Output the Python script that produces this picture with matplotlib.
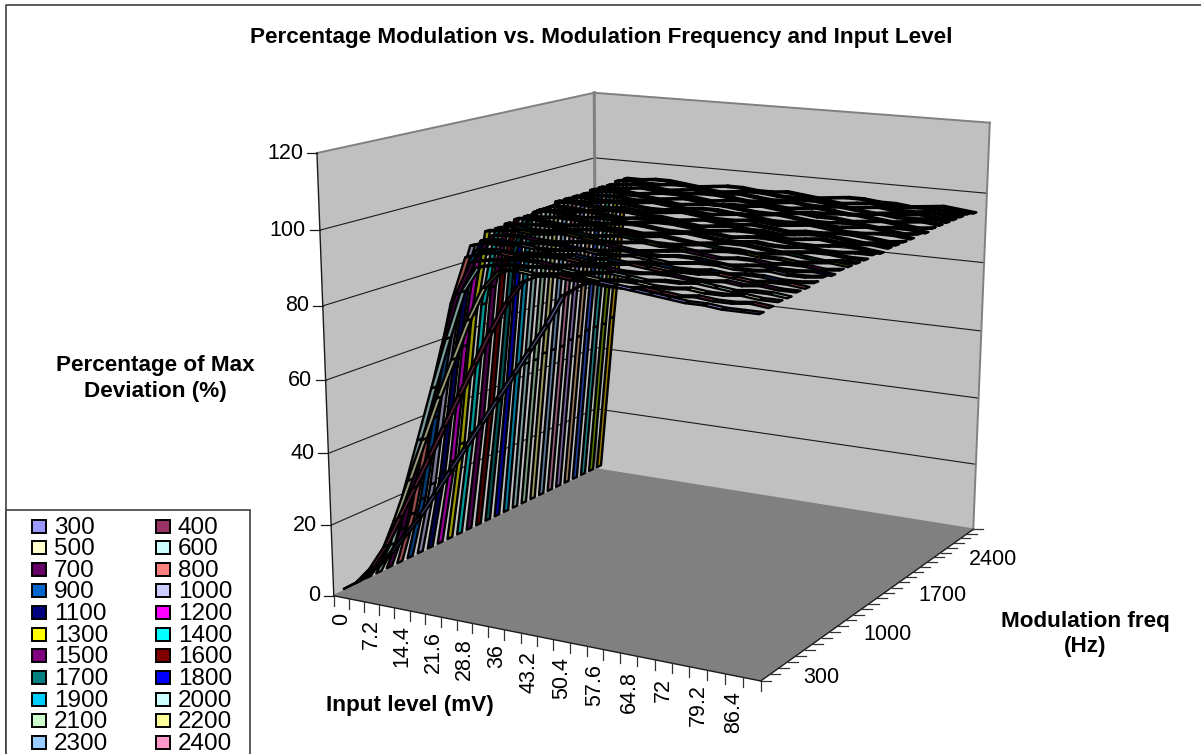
import numpy as np
import matplotlib
matplotlib.use("Agg")
import matplotlib.pyplot as plt
from matplotlib.patches import Polygon, Rectangle
from matplotlib.colors import to_rgb

plt.rcParams['font.family'] = ['Liberation Sans', 'DejaVu Sans']

# input level categories (mV), one point every 3.6 mV
input_levels = [0, 3.6, 7.2, 10.8, 14.4, 18, 21.6, 25.2, 28.8, 32.4, 36, 39.6, 43.2,
                46.8, 50.4, 54, 57.6, 61.2, 64.8, 68.4, 72, 75.6, 79.2, 82.8, 86.4, 90]
x_tick_labels = ['0', '7.2', '14.4', '21.6', '28.8', '36', '43.2', '50.4', '57.6',
                 '64.8', '72', '79.2', '86.4']
y_tick_labels = ['300', '1000', '1700', '2400']
z_tick_values = [0, 20, 40, 60, 80, 100, 120]

# modulation frequencies (Hz), the legend only has room for the first 22
mod_freqs = [300, 400, 500, 600, 700, 800, 900, 1000, 1100, 1200, 1300, 1400, 1500, 1600,
             1700, 1800, 1900, 2000, 2100, 2200, 2300, 2400, 2500, 2600, 2700, 2800, 2900, 3000]
series_colors = ['#9999FF', '#993366', '#FFFFCC', '#CCFFFF', '#660066', '#FF8080', '#0066CC',
                 '#CCCCFF', '#000080', '#FF00FF', '#FFFF00', '#00FFFF', '#800080', '#800000',
                 '#008080', '#0000FF', '#00CCFF', '#CCFFFF', '#CCFFCC', '#FFFF99', '#99CCFF',
                 '#FF99CC', '#CC99FF', '#FFCC99', '#3366FF', '#33CCCC', '#99CC00', '#FFCC00']

m300 = [2, 5, 9, 14, 20, 26, 33, 40, 47, 54, 61, 68, 75, 82, 90, 93, 94.5, 94, 93.5, 93, 92.5, 92, 92, 91.5, 91.5, 91.5]
m400 = [2, 7, 14, 23, 32, 41, 50, 59, 68, 77, 85, 91, 93, 93.5, 93, 93, 92.5, 92.5, 93, 92.5, 92, 92.5, 92, 92, 92.5, 92]
m500 = [2, 9, 20, 32, 44, 56, 67, 78, 87, 92, 92.5, 92, 92.5, 93, 93, 92.5, 93, 93, 92.5, 92.5, 93, 92.5, 92.5, 93, 92.5, 92.5]
m600 = [2, 11, 27, 42, 57, 71, 84, 91, 92, 92.5, 92.5, 93, 93, 92.5, 93, 93.5, 93, 92.5, 93, 93, 93.5, 93, 92.5, 93, 93, 92.5]
m700 = [2, 14, 32, 50, 67, 82, 91, 92, 92.5, 93, 93, 92.5, 93, 93.5, 93.5, 93, 93, 93.5, 93.5, 93, 93, 93.5, 93, 93.5, 93, 93]
m800 = [2, 17, 38, 59, 78, 91, 92.5, 93, 92.5, 93, 93.5, 93.5, 93, 93, 93.5, 94, 93.5, 93, 93.5, 93.5, 94, 93.5, 93, 93.5, 93.5, 93]
m900 = [2, 20, 44, 67, 85, 92, 92.5, 92, 92.5, 93, 93, 93.5, 93, 93.5, 93, 93.5, 93.5, 93, 93, 93.5, 93, 93.5, 93.5, 93, 93, 93.5]
m1000 = [2, 23, 52, 78, 92, 93, 93, 93.5, 93, 93, 93.5, 94, 93.5, 93.5, 94, 93.5, 93, 93.5, 94, 94, 93.5, 93.5, 94, 93.5, 93.5, 94]
m1100 = [2, 25, 56, 83, 92.5, 93, 92.5, 93, 93.5, 93.5, 93, 93, 93.5, 94, 93.5, 93.5, 94, 94, 93.5, 93, 93.5, 94, 93.5, 93.5, 94, 93.5]
m1200 = [2, 27, 61, 87, 93, 93.5, 93.5, 93, 93, 93.5, 94, 94, 93.5, 93, 93.5, 94, 94.5, 94, 93.5, 94, 94, 93.5, 94, 94, 93.5, 94]
m1300 = [2, 31, 69, 93, 93.5, 94, 93.5, 94, 94.5, 94, 93.5, 93.5, 94, 94.5, 94, 94, 93.5, 94, 94.5, 94.5, 94, 94, 93.5, 94, 94.5, 94]
m1400 = [2, 33, 71, 93, 94, 93.5, 93.5, 94, 94, 93.5, 94, 94.5, 94, 93.5, 93.5, 94, 94.5, 94, 94, 93.5, 94, 94.5, 94, 93.5, 94, 94]
m1500 = [2, 35, 75, 93.5, 93.5, 94, 94, 93.5, 94, 94.5, 94.5, 94, 94, 94.5, 94, 93.5, 94, 94.5, 94.5, 94, 93.5, 94, 94.5, 94.5, 94, 94]
m1600 = [2, 37, 78, 94, 94.5, 94, 93.5, 94, 94.5, 94, 94, 93.5, 94, 94.5, 95, 94.5, 94, 94, 94.5, 94, 94, 94.5, 94, 94, 94.5, 94.5]
m1700 = [2, 39, 81, 94, 94, 94.5, 94.5, 94, 94, 94.5, 95, 94.5, 94, 94, 94.5, 94.5, 94, 94.5, 95, 94.5, 94, 94, 94.5, 95, 94.5, 94]
m1800 = [2, 43, 89, 94.5, 95, 94.5, 94, 94.5, 94.5, 94, 94.5, 95, 95, 94.5, 94, 94.5, 95, 95, 94.5, 94, 94.5, 95, 94.5, 94.5, 95, 94.5]
m1900 = [2, 46, 92, 94, 94.5, 94.5, 95, 94.5, 94, 94.5, 94.5, 95, 94.5, 94, 94.5, 95, 94.5, 94.5, 94, 94.5, 95, 95, 94.5, 94, 94.5, 94.5]
m2000 = [2, 47, 93, 94.5, 94.5, 94, 94.5, 95, 95, 94.5, 94.5, 94, 94.5, 95, 94.5, 94.5, 95, 94.5, 94, 94.5, 94.5, 95, 95, 94.5, 94, 94.5]
m2100 = [2, 47, 93, 95, 95, 94.5, 94.5, 95, 94.5, 94.5, 95, 95.5, 95, 94.5, 94.5, 95, 95, 94.5, 95, 95.5, 95, 94.5, 94.5, 95, 95, 94.5]
m2200 = [2, 48, 94, 94.5, 94.5, 95, 95.5, 95, 94.5, 94.5, 95, 95, 94.5, 95, 95.5, 95, 94.5, 94.5, 95, 95, 94.5, 95, 95.5, 95, 94.5, 95]
m2300 = [2, 48, 94, 95, 94.5, 94.5, 95, 95, 95.5, 95, 94.5, 95, 95, 94.5, 94.5, 95, 95.5, 95, 94.5, 94.5, 95, 95, 94.5, 95, 95, 94.5]
m2400 = [2, 48, 94, 94.5, 95, 95, 94.5, 95, 95, 94.5, 95, 95.5, 95.5, 95, 94.5, 94.5, 95, 95.5, 95, 95, 94.5, 95, 95.5, 95, 94.5, 95]
m2500 = [2, 49, 94, 95, 95.5, 95, 95, 94.5, 95, 95.5, 95, 94.5, 95, 95, 95.5, 95, 94.5, 95, 95, 95.5, 95.5, 95, 94.5, 95, 95.5, 95]
m2600 = [2, 49, 94.5, 95, 95, 94.5, 95, 95.5, 95.5, 95, 94.5, 95, 95.5, 95, 95, 94.5, 95, 95.5, 95, 94.5, 95, 95.5, 95, 95, 95.5, 95]
m2700 = [2, 50, 94.5, 94.5, 95, 95.5, 95, 95, 95, 95.5, 95.5, 95, 94.5, 95, 95, 95.5, 95, 95, 95.5, 95, 94.5, 95, 95, 95.5, 95, 95]
m2800 = [2, 50, 94.5, 95, 95.5, 95, 94.5, 95, 95.5, 95, 95, 95.5, 95, 94.5, 95, 95.5, 95.5, 95, 94.5, 95, 95.5, 95, 95, 95.5, 95, 95]
m2900 = [2, 50, 95, 95.5, 95, 95, 95.5, 95.5, 95, 94.5, 95, 95.5, 95.5, 95, 95, 95.5, 95, 94.5, 95, 95.5, 95, 95, 95.5, 95.5, 95, 95]
m3000 = [2, 51, 95, 95, 95.5, 95.5, 95, 94.5, 95, 95.5, 95.5, 95, 95, 95.5, 95, 94.5, 95, 95.5, 95.5, 95, 95, 94.5, 95, 95.5, 95, 94.5]

series_values = [m300, m400, m500, m600, m700, m800, m900, m1000, m1100, m1200, m1300, m1400,
                 m1500, m1600, m1700, m1800, m1900, m2000, m2100, m2200, m2300, m2400,
                 m2500, m2600, m2700, m2800, m2900, m3000]

# where box corners land in the picture, used to fit the perspective (x, y, z fractions -> pixels)
box_points = [(0, 0, 0, 334, 596), (1, 0, 0, 760, 681), (1, 1, 0, 974, 529), (0, 1, 0, 596, 469),
              (0, 0, 1, 317, 152), (0, 1, 1, 594, 93), (1, 1, 1, 990, 123),
              (0, 0, 0.5, 326, 381), (1, 1, 0.5, 981, 331)]

rows = []
rhs = []
for bx, by, bz, px, py in box_points:
    rows.append([bx, by, bz, 1, 0, 0, 0, 0, -px * bx, -px * by, -px * bz])
    rows.append([0, 0, 0, 0, bx, by, bz, 1, -py * bx, -py * by, -py * bz])
    rhs.extend([px, py])
h = np.linalg.lstsq(np.array(rows, float), np.array(rhs, float), rcond=None)[0]
H = np.append(h, 1).reshape(3, 4)


def project(x, y, z):
    #x and y as 0..1 along the floor, z in percent
    p = H @ np.array([x, y, z / 120, 1.0])
    return p[0] / p[2], p[1] / p[2]


def shade(color, k):
    return tuple(c * k for c in to_rgb(color))


fig = plt.figure(figsize=(12.01, 7.54), dpi=100)
ax = fig.add_axes([0, 0, 1, 1])
ax.set_xlim(0, 1201)
ax.set_ylim(754, 0)
ax.axis('off')

# outer frame
ax.plot([6, 6, 1201], [754, 5, 5], color='#404040', lw=1.2)

# walls and floor
ax.add_patch(Polygon([project(0, 0, 0), project(0, 1, 0), project(0, 1, 120), project(0, 0, 120)],
                     fc='#C0C0C0', ec='none'))
ax.add_patch(Polygon([project(0, 1, 0), project(1, 1, 0), project(1, 1, 120), project(0, 1, 120)],
                     fc='#C0C0C0', ec='none'))
ax.add_patch(Polygon([project(0, 0, 0), project(1, 0, 0), project(1, 1, 0), project(0, 1, 0)],
                     fc='#808080', ec='none'))

for z in z_tick_values[1:-1]:
    a, b, c = project(0, 0, z), project(0, 1, z), project(1, 1, z)
    ax.plot([a[0], b[0], c[0]], [a[1], b[1], c[1]], color='#1a1a1a', lw=0.8)

for p, q in [((0, 0, 120), (0, 1, 120)), ((0, 1, 120), (1, 1, 120)), ((1, 1, 120), (1, 1, 0)),
             ((0, 1, 0), (1, 1, 0)), ((0, 0, 0), (0, 1, 0))]:
    a, b = project(*p), project(*q)
    ax.plot([a[0], b[0]], [a[1], b[1]], color='#808080', lw=1.4)
a, b = project(0, 1, 0), project(0, 1, 120)
ax.plot([a[0], b[0]], [a[1], b[1]], color='#808080', lw=2.2)

for p, q in [((0, 0, 0), (0, 0, 120)), ((0, 0, 0), (1, 0, 0)), ((1, 0, 0), (1, 1, 0))]:
    a, b = project(*p), project(*q)
    ax.plot([a[0], b[0]], [a[1], b[1]], color='#1a1a1a', lw=1.0)

# z axis ticks and labels
for z in z_tick_values:
    px, py = project(0, 0, z)
    ax.plot([px - 10, px], [py, py], color='#1a1a1a', lw=0.9)
    ax.text(px - 14, py, str(z), ha='right', va='center', fontsize=15.5, color='black')

# x axis ticks, one each side of a category
n_x = len(input_levels)
for i in range(n_x + 1):
    px, py = project(i / n_x, 0, 0)
    ax.plot([px, px], [py, py + 10], color='#333333', lw=0.9)
for i, lab in enumerate(x_tick_labels):
    px, py = project((2 * i + 0.5) / n_x, 0, 0)
    ax.text(px, py + 16, lab, rotation=90, ha='center', va='top', fontsize=15.5, color='black')

# y axis ticks and labels
n_y = len(mod_freqs)
for i in range(n_y + 1):
    px, py = project(1, i / n_y, 0)
    ax.plot([px, px + 10], [py, py], color='#333333', lw=0.9)
for i, lab in enumerate(y_tick_labels):
    px, py = project(1, (7 * i + 0.5) / n_y, 0)
    ax.text(px + 38, py, lab, ha='left', va='center', fontsize=15.5, color='black')

# ribbons, back series first and left to right along each one
half_width = 0.25
z_order = 5
for j in range(n_y - 1, -1, -1):
    vals = series_values[j]
    y0 = (j + 0.5 - half_width) / n_y
    y1 = (j + 0.5 + half_width) / n_y
    for i in range(n_x - 1):
        x0 = (i + 0.5) / n_x
        x1 = (i + 1.5) / n_x
        k = 0.6 if abs(vals[i + 1] - vals[i]) > 4 else 1.0
        quad = [project(x0, y0, vals[i]), project(x1, y0, vals[i + 1]),
                project(x1, y1, vals[i + 1]), project(x0, y1, vals[i])]
        ax.add_patch(Polygon(quad, fc=shade(series_colors[j], k), ec='black', lw=1.7,
                             joinstyle='round', zorder=z_order))
        z_order += 0.001

# legend box is cut off by the bottom of the chart, so only 22 entries show
ax.add_patch(Rectangle((6, 510), 244, 260, fc='white', ec='#404040', lw=1.2, zorder=10))
for n, freq in enumerate(mod_freqs[:22]):
    col = n % 2
    row = n // 2
    yc = 526 + row * 21.65
    ax.add_patch(Rectangle((32 + col * 124, yc - 6.5), 14, 13, fc=series_colors[n], ec='black',
                           lw=1.4, zorder=11))
    ax.text(54 + col * 124, yc + 1.5, str(freq), ha='left', va='center', fontsize=17.5, zorder=11)

# titles
ax.text(601, 37, 'Percentage Modulation vs. Modulation Frequency and Input Level',
        ha='center', va='center', fontsize=16.2, fontweight='bold')
ax.text(155, 378.5, 'Percentage of Max\nDeviation (%)', ha='center', va='center',
        fontsize=16.2, fontweight='bold', linespacing=1.27)
ax.text(410, 705.5, 'Input level (mV)', ha='center', va='center', fontsize=16.2, fontweight='bold')
ax.text(1085, 634, 'Modulation freq\n(Hz)', ha='center', va='center', fontsize=16.2,
        fontweight='bold', linespacing=1.27)

fig.savefig('out.png', dpi=100)
